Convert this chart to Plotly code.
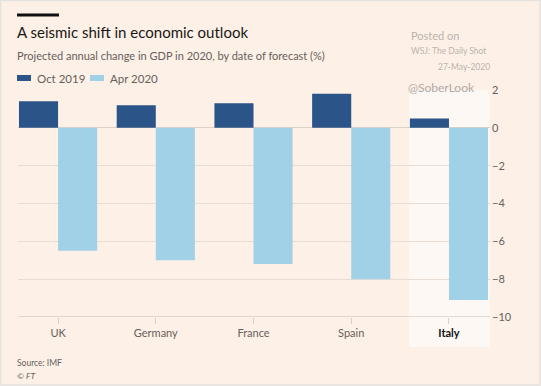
import plotly.graph_objects as go

countries = ["UK", "Germany", "France", "Spain", "Italy"]
oct_2019 = [1.4, 1.2, 1.3, 1.8, 0.5]
apr_2020 = [-6.5, -7.0, -7.2, -8.0, -9.1]
y_ticks = [-10, -8, -6, -4, -2, 0, 2]
tick_text = ["UK", "Germany", "France", "Spain", "<b><span style='color:#111'>Italy</span></b>"]
series_names = ["Oct 2019", "Apr 2020"]

BG = "#fdf0e6"
DARK = "#2b5488"
LIGHT = "#a1d1e6"
GREY = "#66605c"

fig = go.Figure()
fig.add_bar(x=list(range(len(countries))), y=oct_2019, name=series_names[0], marker_color=DARK,
            marker_line_width=0)
fig.add_bar(x=list(range(len(countries))), y=apr_2020, name=series_names[1], marker_color=LIGHT,
            marker_line_width=0)

fig.update_layout(
    width=541, height=386,
    paper_bgcolor=BG, plot_bgcolor=BG,
    margin=dict(l=18, r=51, t=90, b=69, autoexpand=False),
    barmode="group", bargap=0.2, bargroupgap=0,
    font=dict(family="Lato, Open Sans, sans-serif", color=GREY),
    showlegend=False,
    xaxis=dict(range=[-0.41, 4.42], tickmode="array", tickvals=list(range(5)),
               ticktext=tick_text, showgrid=False, zeroline=False,
               showline=False, ticks="outside", ticklen=6, tickcolor="#d8cfc8",
               tickfont=dict(size=11, color=GREY), fixedrange=True),
    yaxis=dict(range=[-10, 2], side="right", tickmode="array", tickvals=y_ticks,
               showgrid=True, gridcolor="#e9ddd3", gridwidth=1,
               zeroline=True, zerolinecolor="#ddd2c8", zerolinewidth=1,
               tickfont=dict(size=11, color=GREY), ticks="", ticklabelstandoff=1),
)

def px_x(px):
    return (px - 18) / 472

def px_y(py):
    return 1.0 - (py - 90) / 227

# Italy highlight band
fig.add_shape(type="rect", xref="x", yref="paper", x0=3.59, x1=4.42, y0=px_y(347), y1=1.0,
              fillcolor="#fdf8f4", line_width=0, layer="below")
# axis line at bottom
fig.add_shape(type="line", xref="paper", yref="y", x0=0, x1=1.0, y0=-10, y1=-10,
              line=dict(color="#d8cfc8", width=1.5))

# Black bar above title
fig.add_shape(type="line", xref="paper", yref="paper", x0=px_x(17), x1=px_x(59),
              y0=px_y(15), y1=px_y(15), line=dict(color="#111", width=3))

# image frame
fig.add_shape(type="rect", xref="paper", yref="paper", x0=px_x(0.5), x1=px_x(540),
              y0=px_y(385), y1=px_y(0.5), fillcolor="rgba(0,0,0,0)",
              line=dict(color="#e4e1df", width=1.5))

# manual legend swatches
for i, (col, x0) in enumerate([(DARK, 17), (LIGHT, 90)]):
    fig.add_shape(type="rect", xref="paper", yref="paper", x0=px_x(x0), x1=px_x(x0 + 14),
                  y0=px_y(81), y1=px_y(75), fillcolor=col, line_width=0)

def ann(text, x, y, size, color, xanchor="left", **kw):
    fig.add_annotation(text=text, x=x, y=y, xref="paper", yref="paper",
                       xanchor=xanchor, yanchor="middle", showarrow=False,
                       font=dict(size=size, color=color, **kw))

ann(series_names[0], px_x(35), px_y(78), 11.5, GREY)
ann(series_names[1], px_x(108), px_y(78), 11.5, GREY)
ann("A seismic shift in economic outlook", px_x(15), px_y(32), 15, "#1a1817")
ann("Projected annual change in GDP in 2020, by date of forecast (%)", px_x(15), px_y(56), 11, GREY)
ann("Posted on", px_x(409), px_y(35), 11, "#b9b4b0")
ann("WSJ: The Daily Shot", px_x(409), px_y(51), 8.5, "#b9b4b0")
ann("27-May-2020", px_x(492), px_y(67), 8.5, "#b9b4b0", xanchor="right")
ann("@SoberLook", px_x(406), px_y(88), 12, "#b0aaa6")
ann("Source: IMF", px_x(15), px_y(363), 8.5, GREY)
ann("<i>© FT</i>", px_x(15), px_y(376), 8.5, GREY)

fig.write_html("out.html", config={"displayModeBar": False},
               post_script="document.body.style.margin='0';document.body.style.overflow='hidden';")
